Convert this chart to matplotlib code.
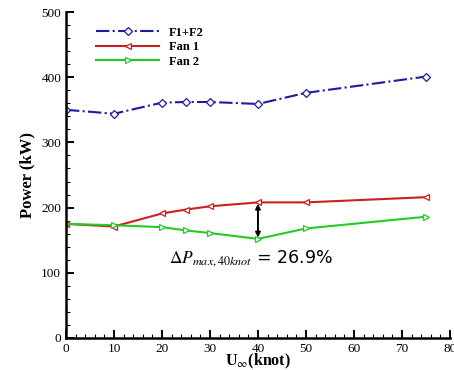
import matplotlib
matplotlib.use('Agg')
import matplotlib.pyplot as plt
from matplotlib.ticker import MultipleLocator

plt.rcParams['font.family'] = ['Liberation Serif', 'DejaVu Serif']
plt.rcParams['mathtext.fontset'] = 'stix'

# data
speed = [0, 10, 20, 25, 30, 40, 50, 75]
p_total = [350, 344, 361, 362, 362, 359, 376, 401]
p_fan1 = [175, 171, 191, 197, 202, 208, 208, 216]
p_fan2 = [175, 173, 170, 165, 161, 152, 168, 186]

fig = plt.figure(figsize=(4.54, 3.70), dpi=100)
ax = fig.add_axes([0.1454, 0.0865, 0.8456, 0.881])

ax.plot(speed, p_total, color='#1c1ca0', ls='-.', lw=1.5, marker='D', ms=4,
        mfc='white', mec='#1c1ca0', mew=0.9, label='F1+F2')
ax.plot(speed, p_fan1, color='#cc1f1f', ls='-', lw=1.5, marker='<', ms=5,
        mfc='white', mec='#cc1f1f', mew=0.9, label='Fan 1')
ax.plot(speed, p_fan2, color='#22cc22', ls='-', lw=1.5, marker='>', ms=5,
        mfc='white', mec='#22cc22', mew=0.9, label='Fan 2')

# difference arrow at 40 knot
ax.annotate('', xy=(40, p_fan1[5] - 2), xytext=(40, p_fan2[5] + 2),
            arrowprops=dict(arrowstyle='<|-|>', color='black', lw=1.4,
                            mutation_scale=7, shrinkA=0, shrinkB=0))
ax.text(21.5, 122, r'$\Delta P_{max,40knot}$ = 26.9%', fontsize=12.5,
        family=['DejaVu Sans'], va='center')

ax.set_xlim(0, 80)
ax.set_ylim(0, 500)
ax.xaxis.set_major_locator(MultipleLocator(10))
ax.xaxis.set_minor_locator(MultipleLocator(2))
ax.yaxis.set_major_locator(MultipleLocator(100))
ax.yaxis.set_minor_locator(MultipleLocator(20))
ax.tick_params(which='major', direction='in', length=6, width=1.4, labelsize=9.5)
ax.tick_params(which='minor', direction='in', length=3, width=0.8)
ax.spines['top'].set_visible(False)
ax.spines['right'].set_visible(False)
ax.spines['left'].set_linewidth(1.8)
ax.spines['bottom'].set_linewidth(1.8)

ax.set_xlabel(r'U$_{\infty}$(knot)', fontsize=11.5, fontweight='bold', labelpad=-2.5)
ax.set_ylabel('Power (kW)', fontsize=12, fontweight='bold', labelpad=4)

leg = ax.legend(loc='upper left', bbox_to_anchor=(0.05, 0.99), frameon=False,
                handlelength=5.0, handletextpad=0.8, labelspacing=0.2,
                prop={'weight': 'bold', 'size': 9})

fig.savefig('out.png', dpi=100)
